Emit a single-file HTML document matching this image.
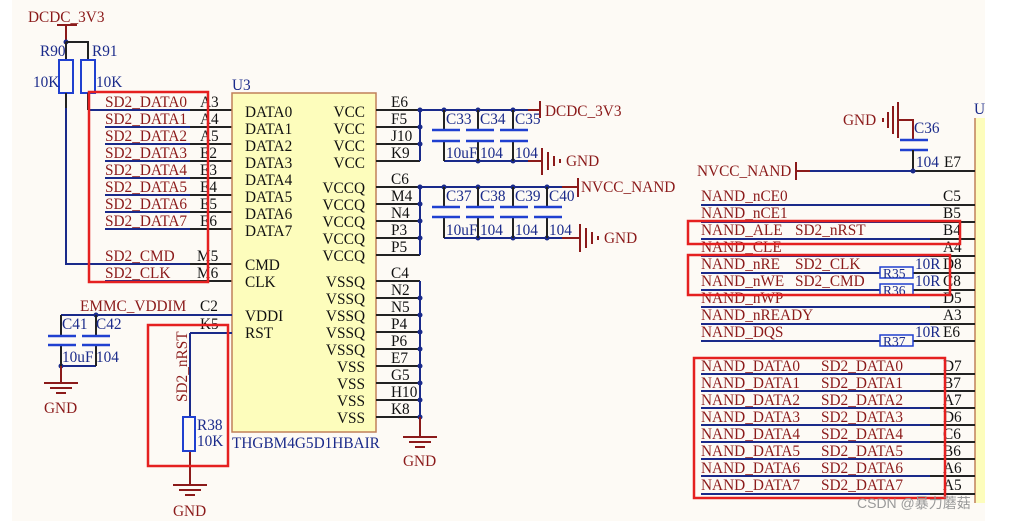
<!DOCTYPE html>
<html><head><meta charset="utf-8"><style>
html,body{margin:0;padding:0;background:#fff;}
svg{display:block;}
text{font-family:"Liberation Serif",serif;font-size:15.3px;}
.n{fill:#8b1a1a}.c{fill:#1a2a8a}.k{fill:#111}
</style></head><body>
<svg width="1009" height="521" viewBox="0 0 1009 521" xmlns="http://www.w3.org/2000/svg">
<rect x="12" y="0" width="973" height="521" fill="#fdfaf5"/>
<text x="28" y="22" class="n">DCDC_3V3</text>
<line x1="57" y1="25" x2="77" y2="25" stroke="#8b1a1a" stroke-width="2"/>
<line x1="66" y1="25" x2="66" y2="42" stroke="#8b1a1a" stroke-width="2"/>
<circle cx="66" cy="42" r="2.5" fill="#1a2a8a"/>
<polyline points="66,42 88,42 88,60" fill="none" stroke="#222" stroke-width="2"/>
<line x1="66" y1="42" x2="66" y2="60" stroke="#222" stroke-width="2"/>
<rect x="59" y="60" width="14" height="33" fill="none" stroke="#2040d0" stroke-width="2"/>
<rect x="81" y="60" width="14" height="33" fill="none" stroke="#2040d0" stroke-width="2"/>
<text x="40" y="56" class="c">R90</text><text x="92" y="56" class="c">R91</text>
<text x="33" y="87" class="c">10K</text><text x="96" y="87" class="c">10K</text>
<line x1="66" y1="93" x2="66" y2="108" stroke="#222" stroke-width="2"/>
<polyline points="66,108 66,264 232,264" fill="none" stroke="#1a2a8a" stroke-width="2"/>
<line x1="88" y1="93" x2="88" y2="110" stroke="#222" stroke-width="2"/>
<line x1="88" y1="110" x2="190" y2="110" stroke="#1a2a8a" stroke-width="2"/>
<g stroke-width="2">
<line x1="105" y1="127" x2="190" y2="127" stroke="#1a2a8a"/>
<line x1="105" y1="144" x2="190" y2="144" stroke="#1a2a8a"/>
<line x1="105" y1="161" x2="190" y2="161" stroke="#1a2a8a"/>
<line x1="105" y1="178" x2="190" y2="178" stroke="#1a2a8a"/>
<line x1="105" y1="195" x2="190" y2="195" stroke="#1a2a8a"/>
<line x1="105" y1="212" x2="190" y2="212" stroke="#1a2a8a"/>
<line x1="105" y1="229" x2="190" y2="229" stroke="#1a2a8a"/>
<line x1="105" y1="281" x2="190" y2="281" stroke="#1a2a8a"/>
<line x1="190" y1="110" x2="232" y2="110" stroke="#222"/>
<line x1="190" y1="127" x2="232" y2="127" stroke="#222"/>
<line x1="190" y1="144" x2="232" y2="144" stroke="#222"/>
<line x1="190" y1="161" x2="232" y2="161" stroke="#222"/>
<line x1="190" y1="178" x2="232" y2="178" stroke="#222"/>
<line x1="190" y1="195" x2="232" y2="195" stroke="#222"/>
<line x1="190" y1="212" x2="232" y2="212" stroke="#222"/>
<line x1="190" y1="229" x2="232" y2="229" stroke="#222"/>
<line x1="190" y1="264" x2="232" y2="264" stroke="#222"/>
<line x1="190" y1="281" x2="232" y2="281" stroke="#222"/>
</g>
<text x="105" y="107" class="n">SD2_DATA0</text><text x="200" y="107" class="k">A3</text>
<text x="105" y="124" class="n">SD2_DATA1</text><text x="200" y="124" class="k">A4</text>
<text x="105" y="141" class="n">SD2_DATA2</text><text x="200" y="141" class="k">A5</text>
<text x="105" y="158" class="n">SD2_DATA3</text><text x="200" y="158" class="k">E2</text>
<text x="105" y="175" class="n">SD2_DATA4</text><text x="200" y="175" class="k">E3</text>
<text x="105" y="192" class="n">SD2_DATA5</text><text x="200" y="192" class="k">E4</text>
<text x="105" y="209" class="n">SD2_DATA6</text><text x="200" y="209" class="k">E5</text>
<text x="105" y="226" class="n">SD2_DATA7</text><text x="200" y="226" class="k">E6</text>
<text x="105" y="261" class="n">SD2_CMD</text><text x="197" y="261" class="k">M5</text>
<text x="105" y="278" class="n">SD2_CLK</text><text x="197" y="278" class="k">M6</text>
<rect x="89" y="92" width="119" height="190" fill="none" stroke="#e52020" stroke-width="2.5"/>
<text x="232" y="90" class="c">U3</text>
<rect x="232" y="93" width="144" height="339" fill="#fdfdbc" stroke="#c0805a" stroke-width="1.5"/>
<g class="k">
<text x="245" y="117">DATA0</text><text x="245" y="134">DATA1</text><text x="245" y="151">DATA2</text><text x="245" y="168">DATA3</text>
<text x="245" y="185">DATA4</text><text x="245" y="202">DATA5</text><text x="245" y="219">DATA6</text><text x="245" y="236">DATA7</text>
<text x="245" y="270">CMD</text><text x="245" y="287">CLK</text><text x="245" y="321">VDDI</text><text x="245" y="338">RST</text>
</g>
<g class="k" text-anchor="end">
<text x="365" y="117">VCC</text><text x="365" y="134">VCC</text><text x="365" y="151">VCC</text><text x="365" y="168">VCC</text>
<text x="365" y="193">VCCQ</text><text x="365" y="210">VCCQ</text><text x="365" y="227">VCCQ</text><text x="365" y="244">VCCQ</text><text x="365" y="261">VCCQ</text>
<text x="365" y="287">VSSQ</text><text x="365" y="304">VSSQ</text><text x="365" y="321">VSSQ</text><text x="365" y="338">VSSQ</text><text x="365" y="355">VSSQ</text>
<text x="365" y="372">VSS</text><text x="365" y="389">VSS</text><text x="365" y="406">VSS</text><text x="365" y="423">VSS</text>
</g>
<text x="232" y="448" class="c">THGBM4G5D1HBAIR</text>
<g stroke="#222" stroke-width="2">
<line x1="376" y1="110" x2="420" y2="110"/><line x1="376" y1="127" x2="420" y2="127"/><line x1="376" y1="144" x2="420" y2="144"/><line x1="376" y1="161" x2="420" y2="161"/>
<line x1="376" y1="187" x2="420" y2="187"/><line x1="376" y1="204" x2="420" y2="204"/><line x1="376" y1="221" x2="420" y2="221"/><line x1="376" y1="238" x2="420" y2="238"/><line x1="376" y1="255" x2="420" y2="255"/>
<line x1="376" y1="281" x2="420" y2="281"/><line x1="376" y1="298" x2="420" y2="298"/><line x1="376" y1="315" x2="420" y2="315"/><line x1="376" y1="332" x2="420" y2="332"/><line x1="376" y1="349" x2="420" y2="349"/><line x1="376" y1="366" x2="420" y2="366"/><line x1="376" y1="383" x2="420" y2="383"/><line x1="376" y1="400" x2="420" y2="400"/><line x1="376" y1="417" x2="420" y2="417"/>
</g>
<g class="k">
<text x="391" y="107">E6</text><text x="391" y="124">F5</text><text x="391" y="141">J10</text><text x="391" y="158">K9</text>
<text x="391" y="184">C6</text><text x="391" y="201">M4</text><text x="391" y="218">N4</text><text x="391" y="235">P3</text><text x="391" y="252">P5</text>
<text x="391" y="278">C4</text><text x="391" y="295">N2</text><text x="391" y="312">N5</text><text x="391" y="329">P4</text><text x="391" y="346">P6</text><text x="391" y="363">E7</text><text x="391" y="380">G5</text><text x="391" y="397">H10</text><text x="391" y="414">K8</text>
</g>
<g stroke="#1a2a8a" stroke-width="2" fill="none">
<line x1="420" y1="110" x2="420" y2="161"/>
<line x1="420" y1="187" x2="420" y2="255"/>
<line x1="420" y1="281" x2="420" y2="417"/>
<line x1="420" y1="110" x2="528" y2="110"/>
<line x1="420" y1="187" x2="578" y2="187"/>
<line x1="444" y1="161" x2="528" y2="161"/>
<line x1="444" y1="238" x2="562" y2="238"/>
<line x1="61" y1="315" x2="232" y2="315"/>
<line x1="61" y1="366" x2="96" y2="366"/>
<line x1="190" y1="333" x2="232" y2="333"/>
<line x1="190" y1="333" x2="190" y2="417"/>
</g>
<g fill="#1a2a8a">
<circle cx="420" cy="110" r="2.5"/><circle cx="420" cy="127" r="2.5"/><circle cx="420" cy="144" r="2.5"/>
<circle cx="420" cy="187" r="2.5"/><circle cx="420" cy="204" r="2.5"/><circle cx="420" cy="221" r="2.5"/><circle cx="420" cy="238" r="2.5"/>
<circle cx="420" cy="298" r="2.5"/><circle cx="420" cy="315" r="2.5"/><circle cx="420" cy="332" r="2.5"/><circle cx="420" cy="349" r="2.5"/><circle cx="420" cy="366" r="2.5"/><circle cx="420" cy="383" r="2.5"/><circle cx="420" cy="400" r="2.5"/><circle cx="420" cy="417" r="2.5"/>
<circle cx="444" cy="110" r="2.5"/><circle cx="478" cy="110" r="2.5"/><circle cx="513" cy="110" r="2.5"/>
<circle cx="478" cy="161" r="2.5"/><circle cx="513" cy="161" r="2.5"/>
<circle cx="444" cy="187" r="2.5"/><circle cx="478" cy="187" r="2.5"/><circle cx="513" cy="187" r="2.5"/><circle cx="547" cy="187" r="2.5"/>
<circle cx="478" cy="238" r="2.5"/><circle cx="513" cy="238" r="2.5"/><circle cx="547" cy="238" r="2.5"/>
<circle cx="96" cy="315" r="2.5"/><circle cx="61" cy="366" r="2.5"/>
</g>
<g stroke="#222" stroke-width="2">
<line x1="444" y1="110" x2="444" y2="130"/><line x1="444" y1="140" x2="444" y2="161"/>
<line x1="478" y1="110" x2="478" y2="130"/><line x1="478" y1="140" x2="478" y2="161"/>
<line x1="513" y1="110" x2="513" y2="130"/><line x1="513" y1="140" x2="513" y2="161"/>
<line x1="444" y1="187" x2="444" y2="207"/><line x1="444" y1="217" x2="444" y2="238"/>
<line x1="478" y1="187" x2="478" y2="207"/><line x1="478" y1="217" x2="478" y2="238"/>
<line x1="513" y1="187" x2="513" y2="207"/><line x1="513" y1="217" x2="513" y2="238"/>
<line x1="547" y1="187" x2="547" y2="207"/><line x1="547" y1="217" x2="547" y2="238"/>
<line x1="61" y1="315" x2="61" y2="336"/><line x1="61" y1="345" x2="61" y2="366"/>
<line x1="96" y1="315" x2="96" y2="336"/><line x1="96" y1="345" x2="96" y2="366"/>
</g>
<g stroke="#2040d0" stroke-width="2.5">
<line x1="432" y1="130" x2="460" y2="130"/><line x1="432" y1="141" x2="460" y2="141"/>
<line x1="466" y1="130" x2="494" y2="130"/><line x1="466" y1="141" x2="494" y2="141"/>
<line x1="500" y1="130" x2="528" y2="130"/><line x1="500" y1="141" x2="528" y2="141"/>
<line x1="432" y1="207" x2="460" y2="207"/><line x1="432" y1="217" x2="460" y2="217"/>
<line x1="466" y1="207" x2="494" y2="207"/><line x1="466" y1="217" x2="494" y2="217"/>
<line x1="500" y1="207" x2="528" y2="207"/><line x1="500" y1="217" x2="528" y2="217"/>
<line x1="534" y1="207" x2="562" y2="207"/><line x1="534" y1="217" x2="562" y2="217"/>
<line x1="48" y1="336" x2="76" y2="336"/><line x1="48" y1="345" x2="76" y2="345"/>
<line x1="82" y1="336" x2="110" y2="336"/><line x1="82" y1="345" x2="110" y2="345"/>
</g>
<g class="c">
<text x="446" y="124">C33</text><text x="480" y="124">C34</text><text x="515" y="124">C35</text>
<text x="446" y="158">10uF</text><text x="480" y="158">104</text><text x="515" y="158">104</text>
<text x="446" y="201">C37</text><text x="480" y="201">C38</text><text x="515" y="201">C39</text><text x="549" y="201">C40</text>
<text x="446" y="235">10uF</text><text x="480" y="235">104</text><text x="515" y="235">104</text><text x="549" y="235">104</text>
<text x="62" y="329">C41</text><text x="96" y="329">C42</text>
<text x="62" y="362">10uF</text><text x="96" y="362">104</text>
</g>
<g stroke="#8b1a1a" stroke-width="2">
<line x1="528" y1="110" x2="540" y2="110"/><line x1="540" y1="101" x2="540" y2="118"/>
<line x1="528" y1="161" x2="542" y2="161"/><line x1="542" y1="148" x2="542" y2="175"/><line x1="548" y1="152" x2="548" y2="170"/><line x1="554" y1="156" x2="554" y2="166"/><line x1="560" y1="159" x2="560" y2="163"/>
<line x1="562" y1="187" x2="578" y2="187"/><line x1="578" y1="178" x2="578" y2="197"/>
<line x1="562" y1="238" x2="580" y2="238"/><line x1="580" y1="224" x2="580" y2="252"/><line x1="586" y1="228" x2="586" y2="248"/><line x1="592" y1="232" x2="592" y2="244"/><line x1="598" y1="236" x2="598" y2="240"/>
<line x1="420" y1="417" x2="420" y2="437"/><line x1="403" y1="437" x2="437" y2="437"/><line x1="409" y1="442" x2="431" y2="442"/><line x1="415" y1="447" x2="425" y2="447"/>
<line x1="61" y1="366" x2="61" y2="383"/><line x1="44" y1="383" x2="78" y2="383"/><line x1="50" y1="388" x2="72" y2="388"/><line x1="56" y1="393" x2="66" y2="393"/>
<line x1="190" y1="451" x2="190" y2="485"/><line x1="173" y1="485" x2="207" y2="485"/><line x1="179" y1="490" x2="201" y2="490"/><line x1="185" y1="495" x2="195" y2="495"/>
</g>
<text x="545" y="116" class="n">DCDC_3V3</text>
<text x="566" y="166" class="n">GND</text>
<text x="581" y="192" class="n">NVCC_NAND</text>
<text x="604" y="243" class="n">GND</text>
<text x="403" y="466" class="n">GND</text>
<text x="44" y="413" class="n">GND</text>
<text x="173" y="516" class="n">GND</text>
<text x="80" y="311" class="n">EMMC_VDDIM</text><text x="200" y="311" class="k">C2</text>
<text x="200" y="329" class="k">K5</text>
<text transform="translate(187,402) rotate(-90)" class="n">SD2_nRST</text>
<rect x="183" y="417" width="12" height="34" fill="none" stroke="#2040d0" stroke-width="2"/>
<text x="197" y="430" class="c">R38</text><text x="197" y="446" class="c">10K</text>
<rect x="148" y="325" width="80" height="141" fill="none" stroke="#e52020" stroke-width="2.5"/>
<rect x="975" y="118" width="10" height="385" fill="#fdfdbc"/>
<line x1="975" y1="118" x2="975" y2="503" stroke="#c0805a" stroke-width="1.5"/>
<text x="974" y="114" class="c">U</text>
<text x="843" y="125" class="n">GND</text>
<g stroke="#8b1a1a" stroke-width="2">
<line x1="883" y1="118" x2="883" y2="122"/><line x1="888" y1="112" x2="888" y2="128"/><line x1="893" y1="106" x2="893" y2="134"/><line x1="898" y1="102" x2="898" y2="138"/>
<polyline points="898,120 913,120 913,140" fill="none"/>
<line x1="796" y1="162" x2="796" y2="180"/><line x1="796" y1="171" x2="810" y2="171"/>
</g>
<line x1="900" y1="140" x2="928" y2="140" stroke="#2040d0" stroke-width="2.5"/>
<line x1="900" y1="150" x2="928" y2="150" stroke="#2040d0" stroke-width="2.5"/>
<line x1="913" y1="150" x2="913" y2="171" stroke="#222" stroke-width="2"/>
<line x1="810" y1="171" x2="913" y2="171" stroke="#1a2a8a" stroke-width="2"/>
<line x1="913" y1="171" x2="975" y2="171" stroke="#222" stroke-width="2"/>
<circle cx="913" cy="171" r="2.5" fill="#1a2a8a"/>
<text x="914" y="133" class="c">C36</text><text x="916" y="167" class="c">104</text><text x="944" y="167" class="k">E7</text>
<text x="697" y="176" class="n">NVCC_NAND</text>
<g stroke-width="2">
<line x1="701" y1="205" x2="930" y2="205" stroke="#1a2a8a"/><line x1="930" y1="205" x2="975" y2="205" stroke="#222"/>
<line x1="701" y1="222" x2="930" y2="222" stroke="#1a2a8a"/><line x1="930" y1="222" x2="975" y2="222" stroke="#222"/>
<line x1="701" y1="239" x2="930" y2="239" stroke="#1a2a8a"/><line x1="930" y1="239" x2="975" y2="239" stroke="#222"/>
<line x1="701" y1="256" x2="930" y2="256" stroke="#1a2a8a"/><line x1="930" y1="256" x2="975" y2="256" stroke="#222"/>
<line x1="701" y1="273" x2="880" y2="273" stroke="#1a2a8a"/><line x1="880" y1="273" x2="975" y2="273" stroke="#222"/>
<line x1="701" y1="290" x2="880" y2="290" stroke="#1a2a8a"/><line x1="880" y1="290" x2="975" y2="290" stroke="#222"/>
<line x1="701" y1="307" x2="930" y2="307" stroke="#1a2a8a"/><line x1="930" y1="307" x2="975" y2="307" stroke="#222"/>
<line x1="701" y1="324" x2="930" y2="324" stroke="#1a2a8a"/><line x1="930" y1="324" x2="975" y2="324" stroke="#222"/>
<line x1="701" y1="341" x2="880" y2="341" stroke="#1a2a8a"/><line x1="880" y1="341" x2="975" y2="341" stroke="#222"/>
</g>
<g class="n">
<text x="701" y="201">NAND_nCE0</text><text x="701" y="218">NAND_nCE1</text><text x="701" y="235">NAND_ALE</text><text x="795" y="235">SD2_nRST</text>
<text x="701" y="252">NAND_CLE</text><text x="701" y="269">NAND_nRE</text><text x="795" y="269">SD2_CLK</text><text x="701" y="286">NAND_nWE</text><text x="795" y="286">SD2_CMD</text>
<text x="701" y="303">NAND_nWP</text><text x="701" y="320">NAND_nREADY</text><text x="701" y="337">NAND_DQS</text>
</g>
<g class="k">
<text x="943" y="201">C5</text><text x="943" y="218">B5</text><text x="943" y="235">B4</text><text x="943" y="252">A4</text>
<text x="943" y="269">D8</text><text x="943" y="286">C8</text><text x="943" y="303">D5</text><text x="943" y="320">A3</text><text x="943" y="337">E6</text>
</g>
<g fill="#fdfaf5" stroke="#2040d0" stroke-width="1.5">
<rect x="880" y="267" width="33" height="11"/><rect x="880" y="284" width="33" height="11"/><rect x="880" y="335" width="33" height="11"/>
</g>
<g class="c">
<text x="883" y="278" style="font-size:13.5px">R35</text><text x="883" y="295" style="font-size:13.5px">R36</text><text x="883" y="346" style="font-size:13.5px">R37</text>
</g>
<g class="c"><text x="915" y="269">10R</text><text x="915" y="286">10R</text><text x="915" y="337">10R</text></g>
<rect x="688" y="221" width="272" height="23" fill="none" stroke="#e52020" stroke-width="2.5"/>
<rect x="688" y="255" width="262" height="40" fill="none" stroke="#e52020" stroke-width="2.5"/>
<g stroke-width="2">
<line x1="701" y1="374" x2="930" y2="374" stroke="#1a2a8a"/><line x1="930" y1="374" x2="975" y2="374" stroke="#222"/>
<line x1="701" y1="391" x2="930" y2="391" stroke="#1a2a8a"/><line x1="930" y1="391" x2="975" y2="391" stroke="#222"/>
<line x1="701" y1="408" x2="930" y2="408" stroke="#1a2a8a"/><line x1="930" y1="408" x2="975" y2="408" stroke="#222"/>
<line x1="701" y1="425" x2="930" y2="425" stroke="#1a2a8a"/><line x1="930" y1="425" x2="975" y2="425" stroke="#222"/>
<line x1="701" y1="442" x2="930" y2="442" stroke="#1a2a8a"/><line x1="930" y1="442" x2="975" y2="442" stroke="#222"/>
<line x1="701" y1="459" x2="930" y2="459" stroke="#1a2a8a"/><line x1="930" y1="459" x2="975" y2="459" stroke="#222"/>
<line x1="701" y1="476" x2="930" y2="476" stroke="#1a2a8a"/><line x1="930" y1="476" x2="975" y2="476" stroke="#222"/>
<line x1="701" y1="494" x2="930" y2="494" stroke="#1a2a8a"/><line x1="930" y1="494" x2="975" y2="494" stroke="#222"/>
</g>
<g class="n">
<text x="701" y="371">NAND_DATA0</text><text x="821" y="371">SD2_DATA0</text>
<text x="701" y="388">NAND_DATA1</text><text x="821" y="388">SD2_DATA1</text>
<text x="701" y="405">NAND_DATA2</text><text x="821" y="405">SD2_DATA2</text>
<text x="701" y="422">NAND_DATA3</text><text x="821" y="422">SD2_DATA3</text>
<text x="701" y="439">NAND_DATA4</text><text x="821" y="439">SD2_DATA4</text>
<text x="701" y="456">NAND_DATA5</text><text x="821" y="456">SD2_DATA5</text>
<text x="701" y="473">NAND_DATA6</text><text x="821" y="473">SD2_DATA6</text>
<text x="701" y="490">NAND_DATA7</text><text x="821" y="490">SD2_DATA7</text>
</g>
<g class="k">
<text x="943" y="371">D7</text><text x="943" y="388">B7</text><text x="943" y="405">A7</text><text x="943" y="422">D6</text>
<text x="943" y="439">C6</text><text x="943" y="456">B6</text><text x="943" y="473">A6</text><text x="943" y="490">A5</text>
</g>
<rect x="694" y="358" width="251" height="140" fill="none" stroke="#e52020" stroke-width="2.5"/>
<text x="857" y="508" fill="#999" style="font-family:'Liberation Sans','Noto Sans CJK SC',sans-serif;font-size:14px">CSDN @暴力蘑菇</text>
</svg>
</body></html>
